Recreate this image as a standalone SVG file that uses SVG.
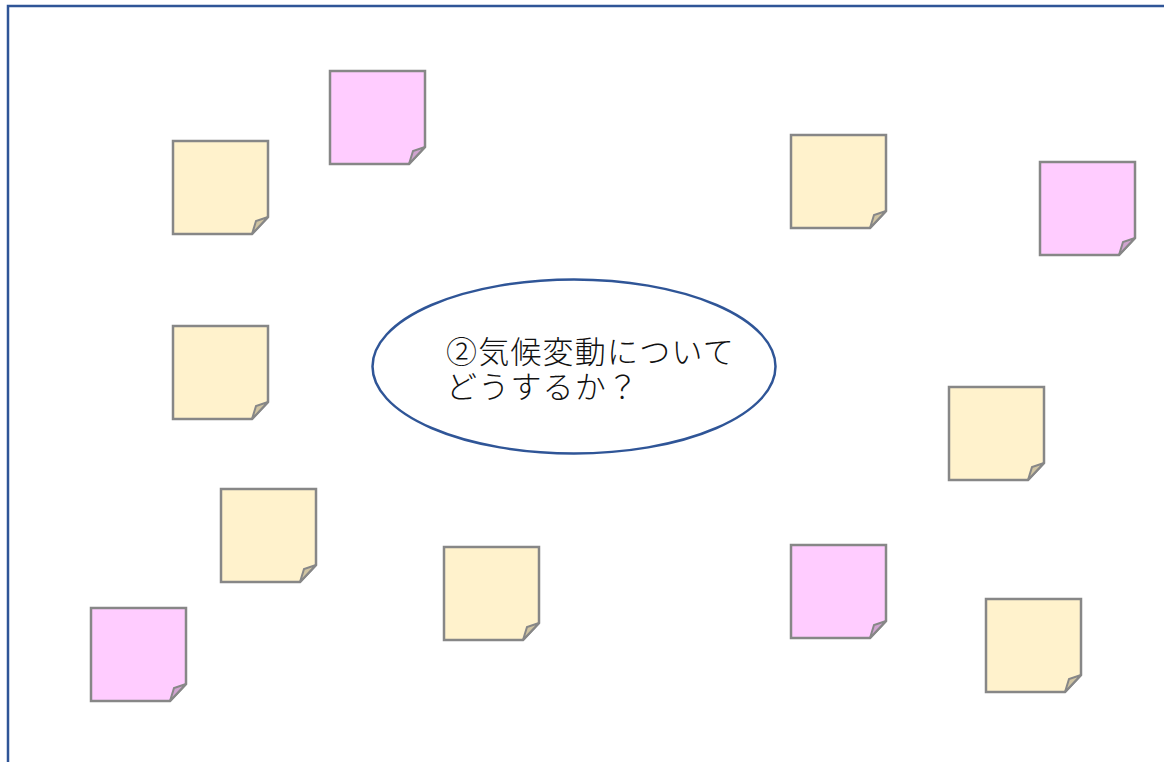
<svg xmlns="http://www.w3.org/2000/svg" width="1164" height="762" viewBox="0 0 1164 762">
<defs>
<style>
.body{stroke:#878787;stroke-width:2.5;stroke-linejoin:miter}
.fold{stroke:#878787;stroke-width:2;stroke-linejoin:miter}
.y .body{fill:#fff2cc}
.p .body{fill:#ffccff}
.y .fold{fill:#d0c4a2}
.p .fold{fill:#d0a3d0}
.lbl{font-family:"Noto Sans CJK JP","Noto Sans CJK SC",sans-serif;font-size:31px;font-weight:300;letter-spacing:1.2px;fill:#111}
</style>
</defs>
<rect width="1164" height="762" fill="#fff"/>
<g id="frame">
<path d="M8,762 V6 H1164" fill="none" stroke="#2f5597" stroke-width="2.5"/>
</g>
<g id="note1" class="y" transform="translate(173,141)"><path class="body" d="M0,0 H95 V76 L79,93 H0 Z"/><path class="fold" d="M79,93 L83,80 L95,76 Z"/></g>
<g id="note2" class="p" transform="translate(330,71)"><path class="body" d="M0,0 H95 V76 L79,93 H0 Z"/><path class="fold" d="M79,93 L83,80 L95,76 Z"/></g>
<g id="note3" class="y" transform="translate(791,135)"><path class="body" d="M0,0 H95 V76 L79,93 H0 Z"/><path class="fold" d="M79,93 L83,80 L95,76 Z"/></g>
<g id="note4" class="p" transform="translate(1040,162)"><path class="body" d="M0,0 H95 V76 L79,93 H0 Z"/><path class="fold" d="M79,93 L83,80 L95,76 Z"/></g>
<g id="note5" class="y" transform="translate(173,326)"><path class="body" d="M0,0 H95 V76 L79,93 H0 Z"/><path class="fold" d="M79,93 L83,80 L95,76 Z"/></g>
<g id="note6" class="y" transform="translate(949,387)"><path class="body" d="M0,0 H95 V76 L79,93 H0 Z"/><path class="fold" d="M79,93 L83,80 L95,76 Z"/></g>
<g id="note7" class="y" transform="translate(221,489)"><path class="body" d="M0,0 H95 V76 L79,93 H0 Z"/><path class="fold" d="M79,93 L83,80 L95,76 Z"/></g>
<g id="note8" class="y" transform="translate(444,547)"><path class="body" d="M0,0 H95 V76 L79,93 H0 Z"/><path class="fold" d="M79,93 L83,80 L95,76 Z"/></g>
<g id="note9" class="p" transform="translate(791,545)"><path class="body" d="M0,0 H95 V76 L79,93 H0 Z"/><path class="fold" d="M79,93 L83,80 L95,76 Z"/></g>
<g id="note10" class="y" transform="translate(986,599)"><path class="body" d="M0,0 H95 V76 L79,93 H0 Z"/><path class="fold" d="M79,93 L83,80 L95,76 Z"/></g>
<g id="note11" class="p" transform="translate(91,608)"><path class="body" d="M0,0 H95 V76 L79,93 H0 Z"/><path class="fold" d="M79,93 L83,80 L95,76 Z"/></g>
<g id="topic">
<ellipse cx="574" cy="366.5" rx="201.5" ry="87" fill="#fff" stroke="#2f5597" stroke-width="2.5"/>
<text class="lbl"><tspan x="446" y="363">②気候変動について</tspan><tspan x="446" y="398">どうするか？</tspan></text>
</g>
<g id="connectors"/>
</svg>
